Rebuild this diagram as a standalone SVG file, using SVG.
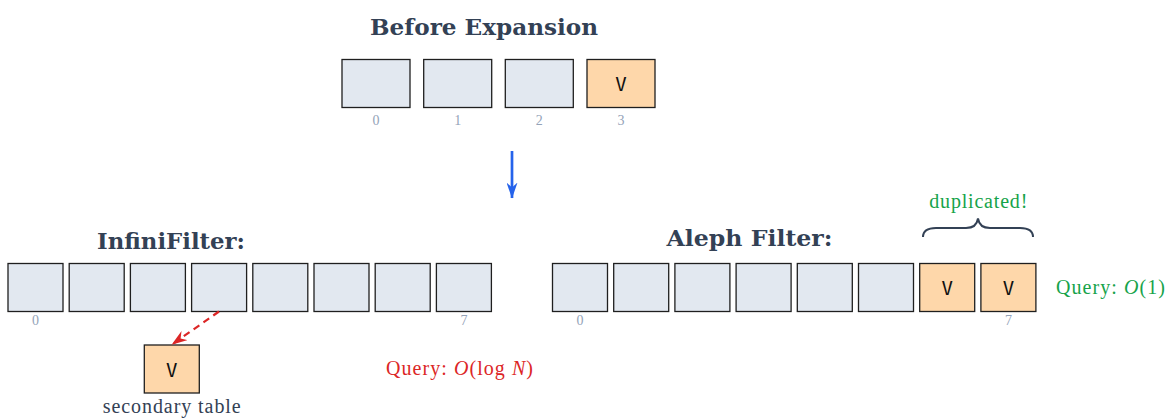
<svg xmlns="http://www.w3.org/2000/svg" width="1167" height="418" viewBox="0 0 1167 418">
  <style>
    .cell { fill: #e2e8f0; stroke: #1f1f1f; stroke-width: 1.3; }
    .hot { fill: #fed7aa; stroke: #1f1f1f; stroke-width: 1.3; }
    .v { font-family: "DejaVu Sans Mono", "Liberation Mono", monospace; font-size: 19px; fill: #111; text-anchor: middle; }
    .idx { font-family: "Liberation Serif", serif; font-size: 14px; fill: #94a3b8; text-anchor: middle; }
    .title { font-family: "DejaVu Serif", "Liberation Serif", serif; font-weight: bold; font-size: 22px; fill: #334155; }
    .txt { font-family: "Liberation Serif", serif; font-size: 20px; }
    .slate { fill: #334155; }
    .green { fill: #16a34a; }
    .red { fill: #dc2626; }
    .it { font-style: italic; }
  </style>
  <defs>
    <marker id="headBlue" viewBox="0 0 16 11" refX="15.5" refY="5.5" markerWidth="16" markerHeight="11" markerUnits="userSpaceOnUse" orient="auto">
      <path d="M0,0 L16,5.5 L0,11 L5,5.5 Z" fill="#2563eb"/>
    </marker>
    <marker id="headRed" viewBox="0 0 16 11" refX="15.5" refY="5.5" markerWidth="16" markerHeight="11" markerUnits="userSpaceOnUse" orient="auto">
      <path d="M0,0 L16,5.5 L0,11 L5,5.5 Z" fill="#dc2626"/>
    </marker>
  </defs>

  <!-- Before Expansion -->
  <g id="before">
    <text class="title" x="484" y="35" text-anchor="middle" textLength="228" lengthAdjust="spacingAndGlyphs">Before Expansion</text>
    <g id="before-0"><rect class="cell" x="342" y="59.5" width="68" height="48"/><text class="idx" x="376" y="125">0</text></g>
    <g id="before-1"><rect class="cell" x="423.7" y="59.5" width="68" height="48"/><text class="idx" x="457.7" y="125">1</text></g>
    <g id="before-2"><rect class="cell" x="505.3" y="59.5" width="68" height="48"/><text class="idx" x="539.3" y="125">2</text></g>
    <g id="before-3"><rect class="hot" x="587" y="59.5" width="68" height="48"/><text class="v" x="621" y="90.5">V</text><text class="idx" x="621" y="125">3</text></g>
  </g>

  <!-- InfiniFilter -->
  <g id="infinifilter">
    <text class="title" x="171" y="249" text-anchor="middle" textLength="148" lengthAdjust="spacingAndGlyphs">InfiniFilter:</text>
    <g id="inf-0"><rect class="cell" x="8" y="263.5" width="55" height="48"/><text class="idx" x="35.5" y="325">0</text></g>
    <g id="inf-1"><rect class="cell" x="69.2" y="263.5" width="55" height="48"/></g>
    <g id="inf-2"><rect class="cell" x="130.4" y="263.5" width="55" height="48"/></g>
    <g id="inf-3"><rect class="cell" x="191.6" y="263.5" width="55" height="48"/></g>
    <g id="inf-4"><rect class="cell" x="252.8" y="263.5" width="55" height="48"/></g>
    <g id="inf-5"><rect class="cell" x="314" y="263.5" width="55" height="48"/></g>
    <g id="inf-6"><rect class="cell" x="375.2" y="263.5" width="55" height="48"/></g>
    <g id="inf-7"><rect class="cell" x="436.4" y="263.5" width="55" height="48"/><text class="idx" x="463.9" y="325">7</text></g>
  </g>

  <g id="secondary">
    <rect class="hot" x="144.3" y="345" width="55" height="48"/>
    <text class="v" x="171.8" y="376.5">V</text>
    <text class="txt slate" x="171.7" y="413" text-anchor="middle" textLength="138" lengthAdjust="spacing">secondary table</text>
  </g>

  <g id="query-log">
    <text class="txt red" x="386" y="374.5" textLength="147" lengthAdjust="spacing">Query:  <tspan class="it">O</tspan>(log <tspan class="it">N</tspan>)</text>
  </g>

  <!-- Aleph Filter -->
  <g id="aleph">
    <text class="title" x="749.5" y="246" text-anchor="middle" textLength="166" lengthAdjust="spacingAndGlyphs">Aleph Filter:</text>
    <g id="aleph-0"><rect class="cell" x="552.5" y="263.5" width="55" height="48"/><text class="idx" x="580" y="325">0</text></g>
    <g id="aleph-1"><rect class="cell" x="613.7" y="263.5" width="55" height="48"/></g>
    <g id="aleph-2"><rect class="cell" x="674.9" y="263.5" width="55" height="48"/></g>
    <g id="aleph-3"><rect class="cell" x="736.1" y="263.5" width="55" height="48"/></g>
    <g id="aleph-4"><rect class="cell" x="797.3" y="263.5" width="55" height="48"/></g>
    <g id="aleph-5"><rect class="cell" x="858.5" y="263.5" width="55" height="48"/></g>
    <g id="aleph-6"><rect class="hot" x="919.7" y="263.5" width="55" height="48"/><text class="v" x="947.2" y="294.5">V</text></g>
    <g id="aleph-7"><rect class="hot" x="980.9" y="263.5" width="55" height="48"/><text class="v" x="1008.4" y="294.5">V</text><text class="idx" x="1008.4" y="325">7</text></g>
  </g>

  <g id="duplicated">
    <path d="M923,237 C923,230.5 928,228 936,228 L966,228 C973,228 977,225 978,218.5 C979,225 983,228 990,228 L1020,228 C1028,228 1033,230.5 1033,237" fill="none" stroke="#334155" stroke-width="2"/>
    <text class="txt green" x="978.3" y="208" text-anchor="middle" textLength="98" lengthAdjust="spacing">duplicated!</text>
  </g>

  <g id="query-const">
    <text class="txt green" x="1056" y="293.5" textLength="109" lengthAdjust="spacing">Query:  <tspan class="it">O</tspan>(1)</text>
  </g>

  <!-- connectors -->
  <g id="connectors">
    <line x1="512" y1="151" x2="512" y2="198" stroke="#2563eb" stroke-width="2.7" marker-end="url(#headBlue)"/>
    <line x1="219" y1="311.5" x2="172" y2="344.5" stroke="#dc2626" stroke-width="2.2" stroke-dasharray="7,5" marker-end="url(#headRed)"/>
  </g>
</svg>
